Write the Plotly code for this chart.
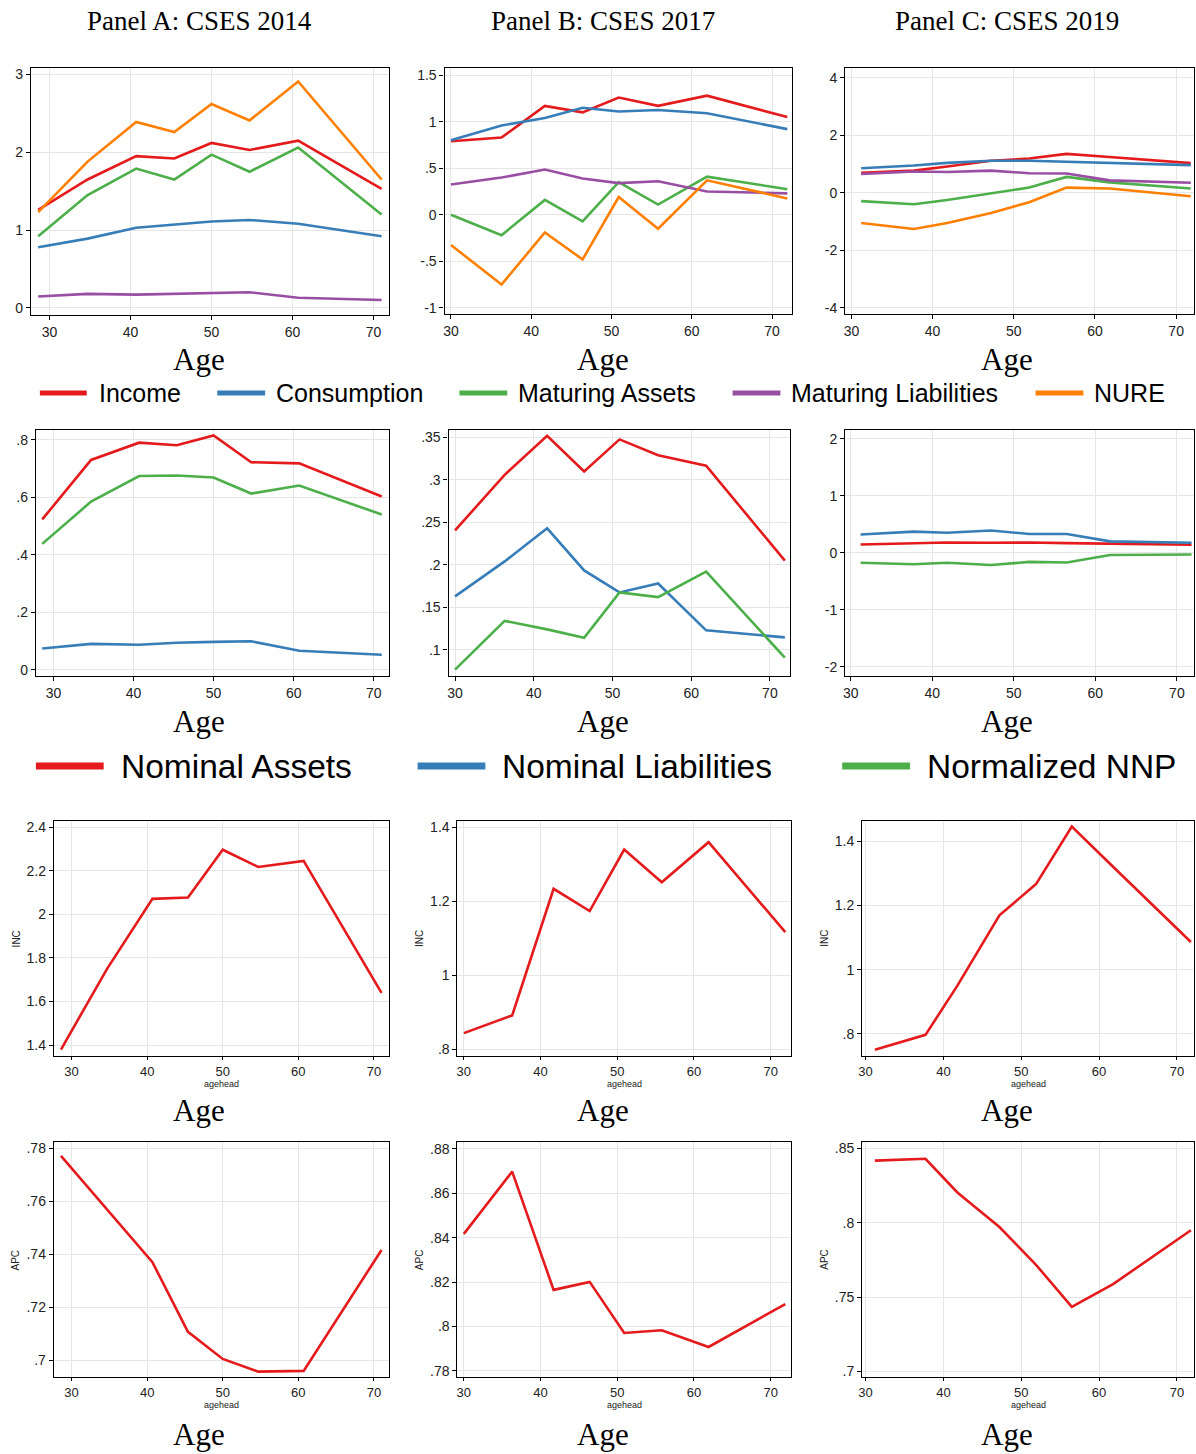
import plotly.graph_objects as go

# ---------------------------------------------------------------- data
AGE_2014 = [28.6, 34.7, 40.7, 45.4, 50.0, 54.7, 60.7, 71.0]
AGE_2017 = [30.0, 36.3, 41.7, 46.4, 50.9, 55.8, 61.9, 71.9]
AGE_2019 = [31.2, 37.7, 41.8, 47.2, 51.9, 56.5, 61.8, 71.8]

# flows (row 1)
income_2014 = [1.26, 1.65, 1.95, 1.92, 2.12, 2.03, 2.15, 1.53]
consumption_2014 = [0.78, 0.89, 1.03, 1.07, 1.11, 1.13, 1.08, 0.92]
mat_assets_2014 = [0.92, 1.45, 1.79, 1.65, 1.97, 1.75, 2.06, 1.20]
mat_liab_2014 = [0.145, 0.18, 0.17, 0.18, 0.19, 0.20, 0.13, 0.10]
nure_2014 = [1.23, 1.88, 2.39, 2.26, 2.62, 2.41, 2.91, 1.65]

income_2017 = [0.79, 0.83, 1.17, 1.10, 1.26, 1.17, 1.28, 1.05]
consumption_2017 = [0.80, 0.96, 1.04, 1.15, 1.11, 1.125, 1.09, 0.92]
mat_assets_2017 = [0.0, -0.22, 0.16, -0.07, 0.35, 0.11, 0.41, 0.275]
mat_liab_2017 = [0.325, 0.40, 0.486, 0.39, 0.34, 0.36, 0.25, 0.23]
nure_2017 = [-0.325, -0.75, -0.19, -0.48, 0.19, -0.15, 0.37, 0.175]

income_2019 = [0.69, 0.77, 0.91, 1.11, 1.19, 1.35, 1.24, 1.03]
consumption_2019 = [0.85, 0.95, 1.04, 1.11, 1.11, 1.07, 1.05, 0.96]
mat_assets_2019 = [-0.29, -0.40, -0.25, -0.01, 0.18, 0.55, 0.36, 0.15]
mat_liab_2019 = [0.65, 0.74, 0.72, 0.77, 0.68, 0.67, 0.43, 0.35]
nure_2019 = [-1.05, -1.26, -1.05, -0.70, -0.33, 0.18, 0.15, -0.12]

# stocks (row 2)
nom_assets_2014 = [0.523, 0.730, 0.790, 0.781, 0.815, 0.722, 0.718, 0.603]
nom_liab_2014 = [0.074, 0.090, 0.087, 0.094, 0.097, 0.099, 0.066, 0.052]
norm_nnp_2014 = [0.438, 0.585, 0.674, 0.676, 0.669, 0.613, 0.641, 0.540]

nom_assets_2017 = [0.2405, 0.306, 0.352, 0.310, 0.3477, 0.329, 0.3167, 0.205]
nom_liab_2017 = [0.1628, 0.204, 0.243, 0.1934, 0.1675, 0.178, 0.1228, 0.1145]
norm_nnp_2017 = [0.0765, 0.134, 0.124, 0.114, 0.1675, 0.162, 0.192, 0.0906]

nom_assets_2019 = [0.146, 0.16, 0.18, 0.175, 0.18, 0.17, 0.158, 0.14]
nom_liab_2019 = [0.32, 0.37, 0.35, 0.39, 0.33, 0.33, 0.20, 0.175]
norm_nnp_2019 = [-0.175, -0.20, -0.175, -0.215, -0.16, -0.17, -0.04, -0.03]

# income (row 3) and average propensity to consume (row 4)
inc_2014 = [1.38, 1.75, 2.071, 2.077, 2.296, 2.217, 2.245, 1.64]
inc_2017 = [0.844, 0.892, 1.234, 1.174, 1.340, 1.252, 1.360, 1.117]
inc_2019 = [0.751, 0.797, 0.95, 1.169, 1.266, 1.445, 1.32, 1.086]

apc_2014 = [0.7771, 0.757, 0.737, 0.7107, 0.7005, 0.6957, 0.696, 0.7416]
apc_2017 = [0.8417, 0.8697, 0.8165, 0.8201, 0.7971, 0.7983, 0.7908, 0.8101]
apc_2019 = [0.8417, 0.8429, 0.8203, 0.7971, 0.7717, 0.7435, 0.7587, 0.7949]

PANEL_TITLES = ["Panel A: CSES 2014", "Panel B: CSES 2017", "Panel C: CSES 2019"]
FLOW_NAMES = ["Income", "Consumption", "Maturing Assets", "Maturing Liabilities", "NURE"]
STOCK_NAMES = ["Nominal Assets", "Nominal Liabilities", "Normalized NNP"]

X_TICKS = [30, 40, 50, 60, 70]
X_TICKTEXT = ["30", "40", "50", "60", "70"]

YT_A1 = [0, 1, 2, 3]; YL_A1 = ["0", "1", "2", "3"]
YT_B1 = [-1, -0.5, 0, 0.5, 1, 1.5]; YL_B1 = ["-1", "-.5", "0", ".5", "1", "1.5"]
YT_C1 = [-4, -2, 0, 2, 4]; YL_C1 = ["-4", "-2", "0", "2", "4"]
YT_A2 = [0, 0.2, 0.4, 0.6, 0.8]; YL_A2 = ["0", ".2", ".4", ".6", ".8"]
YT_B2 = [0.1, 0.15, 0.2, 0.25, 0.3, 0.35]; YL_B2 = [".1", ".15", ".2", ".25", ".3", ".35"]
YT_C2 = [-2, -1, 0, 1, 2]; YL_C2 = ["-2", "-1", "0", "1", "2"]
YT_A3 = [1.4, 1.6, 1.8, 2.0, 2.2, 2.4]; YL_A3 = ["1.4", "1.6", "1.8", "2", "2.2", "2.4"]
YT_B3 = [0.8, 1.0, 1.2, 1.4]; YL_B3 = [".8", "1", "1.2", "1.4"]
YT_C3 = [0.8, 1.0, 1.2, 1.4]; YL_C3 = [".8", "1", "1.2", "1.4"]
YT_A4 = [0.70, 0.72, 0.74, 0.76, 0.78]; YL_A4 = [".7", ".72", ".74", ".76", ".78"]
YT_B4 = [0.78, 0.80, 0.82, 0.84, 0.86, 0.88]; YL_B4 = [".78", ".8", ".82", ".84", ".86", ".88"]
YT_C4 = [0.70, 0.75, 0.80, 0.85]; YL_C4 = [".7", ".75", ".8", ".85"]

# ---------------------------------------------------------------- style
W, H = 1196, 1454
RED, BLUE, GREEN, PURPLE, ORANGE = "#E41A1C", "#377EB8", "#4DAF4A", "#984EA3", "#FF7F00"
FLOW_COLORS = [RED, BLUE, GREEN, PURPLE, ORANGE]
STOCK_COLORS = [RED, BLUE, GREEN]
SANS = "Liberation Sans, Arial, Helvetica, sans-serif"
SERIF = "Liberation Serif, Times New Roman, serif"
GRID = "#e6e6e6"


def px_x(v):
    return v / W


def px_y(v):
    return 1 - v / H


# frame in pixels (left, right, top, bottom), axis ranges, ticks, series
panels = [
    dict(frame=(27, 386, 66, 314), xr=(27.70, 71.88), yr=(-0.094, 3.086), yt=YT_A1, yl=YL_A1,
         age=AGE_2014, series=[income_2014, consumption_2014, mat_assets_2014, mat_liab_2014, nure_2014],
         names=FLOW_NAMES, colors=FLOW_COLORS),
    dict(frame=(442, 791, 66, 313), xr=(29.20, 72.53), yr=(-1.068, 1.579), yt=YT_B1, yl=YL_B1,
         age=AGE_2017, series=[income_2017, consumption_2017, mat_assets_2017, mat_liab_2017, nure_2017],
         names=FLOW_NAMES, colors=FLOW_COLORS),
    dict(frame=(844, 1194, 66, 313), xr=(29.23, 72.2), yr=(-4.215, 4.34), yt=YT_C1, yl=YL_C1,
         age=AGE_2019, series=[income_2019, consumption_2019, mat_assets_2019, mat_liab_2019, nure_2019],
         names=FLOW_NAMES, colors=FLOW_COLORS),
    dict(frame=(32, 386, 429, 676), xr=(27.81, 71.87), yr=(-0.0223, 0.8348), yt=YT_A2, yl=YL_A2,
         age=AGE_2014, series=[nom_assets_2014, nom_liab_2014, norm_nnp_2014],
         names=STOCK_NAMES, colors=STOCK_COLORS),
    dict(frame=(446, 789, 429, 676), xr=(29.17, 72.6), yr=(0.0689, 0.359), yt=YT_B2, yl=YL_B2,
         age=AGE_2017, series=[nom_assets_2017, nom_liab_2017, norm_nnp_2017],
         names=STOCK_NAMES, colors=STOCK_COLORS),
    dict(frame=(844, 1194, 429, 676), xr=(29.31, 72.1), yr=(-2.162, 2.155), yt=YT_C2, yl=YL_C2,
         age=AGE_2019, series=[nom_assets_2019, nom_liab_2019, norm_nnp_2019],
         names=STOCK_NAMES, colors=STOCK_COLORS),
    dict(frame=(50, 386, 821, 1057), xr=(27.66, 71.95), yr=(1.35, 2.429), yt=YT_A3, yl=YL_A3,
         age=AGE_2014, series=[inc_2014], names=["INC"], colors=[RED], ytitle="INC"),
    dict(frame=(455, 790, 821, 1057), xr=(29.17, 72.69), yr=(0.782, 1.418), yt=YT_B3, yl=YL_B3,
         age=AGE_2017, series=[inc_2017], names=["INC"], colors=[RED], ytitle="INC"),
    dict(frame=(861, 1194, 821, 1057), xr=(29.56, 72.2), yr=(0.731, 1.463), yt=YT_C3, yl=YL_C3,
         age=AGE_2019, series=[inc_2019], names=["INC"], colors=[RED], ytitle="INC"),
    dict(frame=(50, 386, 1143, 1379), xr=(27.66, 71.95), yr=(0.6936, 0.7824), yt=YT_A4, yl=YL_A4,
         age=AGE_2014, series=[apc_2014], names=["APC"], colors=[RED], ytitle="APC"),
    dict(frame=(455, 790, 1143, 1379), xr=(29.17, 72.69), yr=(0.7772, 0.8831), yt=YT_B4, yl=YL_B4,
         age=AGE_2017, series=[apc_2017], names=["APC"], colors=[RED], ytitle="APC"),
    dict(frame=(861, 1194, 1143, 1379), xr=(29.56, 72.2), yr=(0.6962, 0.8543), yt=YT_C4, yl=YL_C4,
         age=AGE_2019, series=[apc_2019], names=["APC"], colors=[RED], ytitle="APC"),
]

fig = go.Figure()
layout = {}
annotations = []

for i, p in enumerate(panels, start=1):
    l, r, t, b = p["frame"]
    xa = "xaxis" if i == 1 else f"xaxis{i}"
    ya = "yaxis" if i == 1 else f"yaxis{i}"
    xref = "x" if i == 1 else f"x{i}"
    yref = "y" if i == 1 else f"y{i}"
    small = "ytitle" in p
    common = dict(showline=True, linecolor="black", linewidth=1.2, mirror=True,
                  ticks="outside", tickcolor="black", tickwidth=1,
                  showgrid=True, gridcolor=GRID, gridwidth=1, zeroline=False,
                  fixedrange=True)
    layout[xa] = dict(domain=[px_x(l), px_x(r)], anchor=yref, range=list(p["xr"]),
                      tickmode="array", tickvals=X_TICKS, ticktext=X_TICKTEXT,
                      ticklen=3 if small else 4,
                      tickfont=dict(family=SANS, size=13 if small else 14, color="#222"), **common)
    layout[ya] = dict(domain=[px_y(b), px_y(t)], anchor=xref, range=list(p["yr"]),
                      tickmode="array", tickvals=p["yt"], ticktext=p["yl"], ticklen=4,
                      tickfont=dict(family=SANS, size=14, color="#222"), **common)
    for name, vals, col in zip(p["names"], p["series"], p["colors"]):
        fig.add_trace(go.Scatter(x=p["age"], y=vals, mode="lines", name=name,
                                 line=dict(color=col, width=2.6), showlegend=False,
                                 xaxis=xref, yaxis=yref))
    # axis caption "Age" under every panel
    col_idx = (i - 1) % 3
    row_idx = (i - 1) // 3
    age_y = [358, 721, 1112, 1436][row_idx]
    annotations.append(dict(x=px_x([196, 601, 1006][col_idx]), y=px_y(age_y), xref="paper", yref="paper",
                            text="Age", showarrow=False, xanchor="center", yanchor="middle",
                            font=dict(family=SERIF, size=31, color="black")))
    if small:
        annotations.append(dict(x=px_x(l - 38), y=px_y((t + b) / 2), xref="paper", yref="paper",
                                text=p["ytitle"], showarrow=False, textangle=-90,
                                xanchor="center", yanchor="middle",
                                font=dict(family=SANS, size=10, color="#222")))
        annotations.append(dict(x=px_x((l + r) / 2), y=px_y(b + 28), xref="paper", yref="paper",
                                text="agehead", showarrow=False, xanchor="center", yanchor="middle",
                                font=dict(family=SANS, size=9, color="#222")))

# column titles
for cx, title in zip([196, 601, 1006], PANEL_TITLES):
    annotations.append(dict(x=px_x(cx), y=px_y(19), xref="paper", yref="paper", text=title,
                            showarrow=False, xanchor="center", yanchor="middle",
                            font=dict(family=SERIF, size=27, color="black")))

# legend keys
shapes = []
flow_keys = [(36, 83, 93), (214, 262, 271), (457, 505, 514), (731, 779, 788), (1035, 1083, 1092)]
for (x0, x1, tx), name, col in zip(flow_keys, FLOW_NAMES, FLOW_COLORS):
    shapes.append(dict(type="line", xref="paper", yref="paper", x0=px_x(x0), x1=px_x(x1),
                       y0=px_y(392), y1=px_y(392), line=dict(color=col, width=5)))
    annotations.append(dict(x=px_x(tx), y=px_y(392), xref="paper", yref="paper", text=name,
                            showarrow=False, xanchor="left", yanchor="middle",
                            font=dict(family=SANS, size=25, color="black")))
stock_keys = [(32, 100, 115), (415, 483, 498), (841, 909, 924)]
for (x0, x1, tx), name, col in zip(stock_keys, STOCK_NAMES, STOCK_COLORS):
    shapes.append(dict(type="line", xref="paper", yref="paper", x0=px_x(x0), x1=px_x(x1),
                       y0=px_y(766), y1=px_y(766), line=dict(color=col, width=7)))
    annotations.append(dict(x=px_x(tx), y=px_y(767), xref="paper", yref="paper", text=name,
                            showarrow=False, xanchor="left", yanchor="middle",
                            font=dict(family=SANS, size=33.5, color="black")))

fig.update_layout(width=W, height=H, margin=dict(l=0, r=0, t=0, b=0),
                  paper_bgcolor="white", plot_bgcolor="white",
                  showlegend=False, annotations=annotations, shapes=shapes, **layout)

fig.write_html("out.html")
